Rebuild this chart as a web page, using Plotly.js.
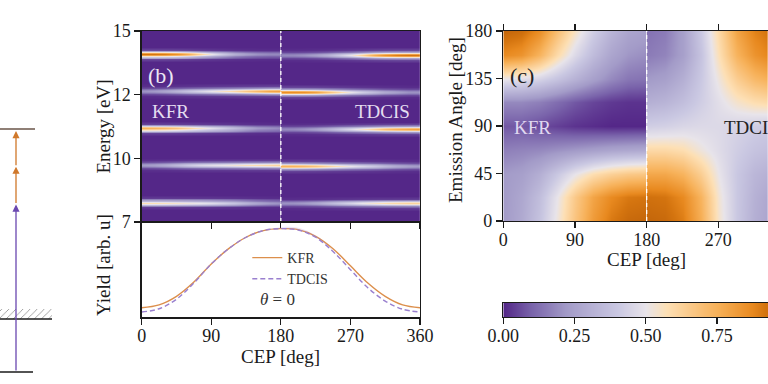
<!DOCTYPE html>
<html><head><meta charset="utf-8">
<script src="https://cdn.plot.ly/plotly-3.0.1.min.js"></script>
<style>html,body{margin:0;padding:0;background:#fff}#chart{width:768px;height:384px}</style>
</head><body><div id="chart"></div>
<script>
// ---------------- DATA ----------------
// Panel (b): harmonic bands vs CEP (y axis in tick-index units: 0->7, 1->10, 2->12, 3->15 eV)
const energyTickVals = [0, 1, 2, 3];
const energyTickText = ['7', '10', '12', '15'];
const cepKFR = [0, 15, 30, 45, 60, 75, 90, 105, 120, 135, 150, 165, 180];
const cepTDCIS = [180, 195, 210, 225, 240, 255, 270, 285, 300, 315, 330, 345, 360];
const bandCentersKFR = [0.304, 0.892, 1.469, 2.056, 2.633];
const bandCentersTDCIS = [0.294, 0.881, 1.458, 2.040, 2.622];
const bandKFR = [
  [0.57, 0.57, 0.56, 0.54, 0.52, 0.50, 0.47, 0.43, 0.38, 0.32, 0.26, 0.22, 0.20],
  [0.22, 0.24, 0.28, 0.34, 0.40, 0.45, 0.48, 0.50, 0.53, 0.56, 0.58, 0.60, 0.62],
  [0.75, 0.74, 0.72, 0.68, 0.62, 0.55, 0.48, 0.42, 0.35, 0.28, 0.22, 0.20, 0.18],
  [0.20, 0.22, 0.26, 0.32, 0.38, 0.44, 0.50, 0.55, 0.60, 0.66, 0.72, 0.78, 0.80],
  [0.92, 0.92, 0.90, 0.85, 0.76, 0.62, 0.50, 0.40, 0.30, 0.24, 0.20, 0.18, 0.18]
];
const bandTDCIS = [
  [0.20, 0.20, 0.22, 0.26, 0.32, 0.38, 0.44, 0.50, 0.54, 0.58, 0.60, 0.62, 0.62],
  [0.74, 0.74, 0.72, 0.68, 0.62, 0.56, 0.50, 0.45, 0.40, 0.34, 0.28, 0.24, 0.22],
  [0.18, 0.18, 0.20, 0.24, 0.30, 0.38, 0.46, 0.54, 0.62, 0.70, 0.75, 0.78, 0.80],
  [0.86, 0.86, 0.85, 0.80, 0.70, 0.60, 0.50, 0.42, 0.35, 0.28, 0.24, 0.20, 0.20],
  [0.18, 0.18, 0.20, 0.24, 0.30, 0.40, 0.50, 0.62, 0.76, 0.85, 0.90, 0.92, 0.92]
];
// cross-section profile of a band line (offset in axis units, relative intensity)
const bandProfileOffset = [-0.12, -0.075, -0.05, -0.033, -0.016, 0, 0.016, 0.033, 0.05, 0.075, 0.12];
const bandProfileShape  = [0, 0.06, 0.28, 0.58, 0.87, 1, 0.87, 0.58, 0.28, 0.06, 0];

// Yield vs CEP (theta = 0)
const cepYield = [0, 22.5, 45, 67.5, 90, 112.5, 135, 157.5, 180, 202.5, 225, 247.5, 270, 292.5, 315, 337.5, 360];
const yieldKFR = [0.10, 0.13, 0.22, 0.37, 0.56, 0.72, 0.84, 0.91, 0.93, 0.92, 0.85, 0.72, 0.54, 0.36, 0.22, 0.13, 0.10];
const yieldTDCIS = [0.055, 0.09, 0.19, 0.36, 0.56, 0.72, 0.84, 0.91, 0.93, 0.915, 0.84, 0.69, 0.50, 0.31, 0.17, 0.085, 0.055];
const yieldTDCISUpper = [0.055, 0.09, 0.19, 0.36, 0.56, 0.72, 0.84, 0.915, 0.945, 0.94, 0.86, 0.70, 0.50, 0.31, 0.17, 0.085, 0.055];

// Panel (c): angular map
const angleC = [0, 22.5, 45, 67.5, 90, 112.5, 135, 157.5, 180];
const cepC_KFR = [0, 22.5, 45, 67.5, 90, 112.5, 135, 157.5, 180];
const cepC_TDCIS = [180, 202.5, 225, 247.5, 270, 292.5, 315, 337.5, 360];
const mapKFR = [
  [0.22, 0.28, 0.38, 0.52, 0.68, 0.82, 0.91, 0.95, 0.96],
  [0.22, 0.27, 0.36, 0.50, 0.66, 0.79, 0.87, 0.91, 0.92],
  [0.22, 0.24, 0.30, 0.40, 0.50, 0.58, 0.63, 0.66, 0.67],
  [0.16, 0.17, 0.18, 0.20, 0.22, 0.24, 0.26, 0.27, 0.28],
  [0.08, 0.08, 0.06, 0.04, 0.02, 0.01, 0.00, 0.00, 0.00],
  [0.18, 0.18, 0.16, 0.12, 0.08, 0.05, 0.03, 0.02, 0.02],
  [0.50, 0.48, 0.44, 0.38, 0.31, 0.24, 0.18, 0.14, 0.13],
  [0.87, 0.84, 0.74, 0.59, 0.46, 0.35, 0.26, 0.21, 0.19],
  [0.96, 0.94, 0.86, 0.70, 0.55, 0.42, 0.32, 0.26, 0.24]
];
const mapTDCIS = [
  [0.96, 0.95, 0.90, 0.76, 0.54, 0.40, 0.30, 0.25, 0.23],
  [0.93, 0.92, 0.87, 0.74, 0.53, 0.40, 0.31, 0.26, 0.24],
  [0.78, 0.78, 0.74, 0.64, 0.50, 0.40, 0.33, 0.30, 0.28],
  [0.60, 0.60, 0.58, 0.52, 0.47, 0.42, 0.38, 0.36, 0.35],
  [0.42, 0.43, 0.45, 0.46, 0.46, 0.44, 0.42, 0.40, 0.40],
  [0.30, 0.32, 0.36, 0.42, 0.48, 0.54, 0.58, 0.60, 0.60],
  [0.22, 0.24, 0.30, 0.40, 0.52, 0.64, 0.72, 0.76, 0.77],
  [0.15, 0.17, 0.24, 0.38, 0.57, 0.74, 0.84, 0.89, 0.90],
  [0.13, 0.15, 0.24, 0.40, 0.60, 0.79, 0.89, 0.93, 0.93]
];
const colorbarLevels = [0, 0.05, 0.1, 0.15, 0.2, 0.25, 0.3, 0.35, 0.4, 0.45, 0.5, 0.55, 0.6, 0.65, 0.7, 0.75, 0.8, 0.85, 0.9, 0.95, 1];
const colorbarTicks = [0, 0.25, 0.5, 0.75];
const colorbarTickText = ['0.00', '0.25', '0.50', '0.75'];
const seamCEP = 180;

// Panel (a): schematic level energies (schematic units)
const groundE = 8, thresholdE = 61, finalE = 251;
const photonPurpleTop = 175.5, photonOrangeMid = 213.3, photonOrangeTop = 249;

// ---------------- STYLE ----------------
const FONT = 'Liberation Serif, Times New Roman, serif';
const INK = '#1a1a1a';
const CS = [[0,'#542788'],[0.1,'#7a64ab'],[0.22,'#a39bc8'],[0.4,'#cac8e2'],[0.5,'#e8e4ea'],
            [0.57,'#fde0b6'],[0.75,'#f7b159'],[0.875,'#e8891f'],[0.92,'#d4740f'],[1,'#b35806']];

function bandGrid(cep, centers, inten) {
  const ys = [0], zs = [cep.map(() => 0)];
  centers.forEach((c, i) => {
    bandProfileOffset.forEach((o, k) => {
      ys.push(c + o);
      zs.push(inten[i].map(v => v * bandProfileShape[k]));
    });
  });
  ys.push(3); zs.push(cep.map(() => 0));
  return {ys, zs};
}
const gK = bandGrid(cepKFR, bandCentersKFR, bandKFR);
const gT = bandGrid(cepTDCIS, bandCentersTDCIS, bandTDCIS);

const hm = (x, y, z, xa, ya) => ({type:'heatmap', x, y, z, zmin:0, zmax:1, colorscale:CS,
  zsmooth:'best', showscale:false, xaxis:xa, yaxis:ya, hoverinfo:'skip'});

const traces = [
  hm(cepKFR, gK.ys, gK.zs, 'x', 'y'),
  hm(cepTDCIS, gT.ys, gT.zs, 'x2', 'y'),
  {type:'scatter', mode:'lines', x:[seamCEP, seamCEP], y:[0, 3], xaxis:'x3', yaxis:'y',
   line:{color:'#ffffff', width:1.3, dash:'4px,3px'}, showlegend:false, hoverinfo:'skip'},
  // yield
  {type:'scatter', mode:'lines', name:'KFR', x:cepYield, y:yieldKFR, xaxis:'x4', yaxis:'y2',
   line:{color:'#dc8f4c', width:1.4, shape:'spline'}},
  {type:'scatter', mode:'lines', name:'TDCIS', x:cepYield, y:yieldTDCIS, xaxis:'x4', yaxis:'y2',
   line:{color:'#9a80cf', width:1.4, dash:'5px,3px', shape:'spline'}},
  {type:'scatter', mode:'lines', x:cepYield, y:yieldTDCISUpper, xaxis:'x4', yaxis:'y2', fill:'tonexty',
   fillcolor:'rgba(150,120,210,0.18)', line:{width:0, shape:'spline'}, showlegend:false, hoverinfo:'skip'},
  // panel c
  hm(cepC_KFR, angleC, mapKFR, 'x5', 'y3'),
  hm(cepC_TDCIS, angleC, mapTDCIS, 'x6', 'y3'),
  {type:'scatter', mode:'lines', x:[seamCEP, seamCEP], y:[0, 180], xaxis:'x7', yaxis:'y3',
   line:{color:'#ffffff', width:1.3, dash:'4px,3px'}, showlegend:false, hoverinfo:'skip'},
  // colorbar
  hm(colorbarLevels, [0], [colorbarLevels], 'x8', 'y4'),
  // panel a schematic
  {type:'bar', x:[26], y:[10], base:[thresholdE], width:[52], xaxis:'x9', yaxis:'y5', showlegend:false,
   hoverinfo:'skip', marker:{color:'rgba(0,0,0,0)', line:{width:0},
   pattern:{shape:'/', fgcolor:'#666', bgcolor:'rgba(0,0,0,0)', size:5, solidity:0.12}}},
  {type:'scatter', mode:'lines', x:[0, 33, null, 0, 52], y:[groundE, groundE, null, thresholdE, thresholdE],
   xaxis:'x9', yaxis:'y5', line:{color:INK, width:1.4}, showlegend:false, hoverinfo:'skip'},
  {type:'scatter', mode:'lines', x:[0, 35], y:[finalE, finalE], xaxis:'x9', yaxis:'y5',
   line:{color:'#8f7f76', width:2.2}, showlegend:false, hoverinfo:'skip'}
];

const axFont = {family:FONT, size:18, color:INK};
const frame = {showline:true, linecolor:INK, linewidth:1.4, showgrid:false, zeroline:false,
  ticks:'outside', ticklen:6, tickwidth:1.2, tickcolor:INK, tickfont:axFont};
const hidden = {visible:false, showgrid:false, zeroline:false};

const X0b = 141.7/768, X1b = 420/768, XMb = 280.85/768;
const X0c = 503.3/768, XMc = 646.7/768;
const py = p => 1 - p/384;

const layout = {
  width:768, height:384, margin:{l:0, r:0, t:0, b:0, autoexpand:false},
  paper_bgcolor:'#fff', plot_bgcolor:'rgba(0,0,0,0)', font:{family:FONT, color:INK},
  showlegend:true,
  legend:{x:0.322, y:py(242), xanchor:'left', yanchor:'top', bgcolor:'rgba(0,0,0,0)', traceorder:'normal',
    font:{family:FONT, size:14, color:'#333'}, tracegroupgap:0},
  // panel b heatmap
  xaxis:Object.assign({}, hidden, {domain:[X0b, XMb], range:[0, 180], anchor:'y'}),
  xaxis2:Object.assign({}, hidden, {domain:[XMb, X1b], range:[180, 360], anchor:'y'}),
  xaxis3:Object.assign({}, frame, {domain:[X0b, X1b], range:[0, 360], anchor:'y', mirror:true,
    tickvals:[0, 90, 180, 270, 360], showticklabels:false}),
  yaxis:Object.assign({}, frame, {domain:[py(222), py(31)], range:[0, 3], anchor:'x3', mirror:true,
    tickvals:energyTickVals, ticktext:energyTickText}),
  // yield
  xaxis4:Object.assign({}, frame, {domain:[X0b, X1b], range:[0, 360], anchor:'y2', mirror:true,
    tickvals:[0, 90, 180, 270, 360], ticklabelstandoff:-4}),
  yaxis2:Object.assign({}, frame, {domain:[py(317.3), py(222)], range:[0, 1], anchor:'x4', mirror:true,
    ticks:'', showticklabels:false}),
  // panel c
  xaxis5:Object.assign({}, hidden, {domain:[X0c, XMc], range:[0, 180], anchor:'y3'}),
  xaxis6:Object.assign({}, hidden, {domain:[XMc, 1], range:[180, 332.3], anchor:'y3'}),
  xaxis7:Object.assign({}, frame, {domain:[X0c, 1], range:[0, 332.3], anchor:'y3', mirror:'ticks',
    tickvals:[0, 90, 180, 270], ticklabelstandoff:-4}),
  yaxis3:Object.assign({}, frame, {domain:[py(221), py(31)], range:[0, 180], anchor:'x7',
    tickvals:[0, 45, 90, 135, 180]}),
  // colorbar
  xaxis8:Object.assign({}, frame, {domain:[X0c, 1], range:[0, 0.929], anchor:'y4', mirror:true,
    tickvals:colorbarTicks, ticktext:colorbarTickText, ticklabelstandoff:-4}),
  yaxis4:Object.assign({}, frame, {domain:[py(317), py(303)], range:[-0.5, 0.5], anchor:'x8',
    ticks:'', showticklabels:false}),
  // schematic
  xaxis9:Object.assign({}, hidden, {domain:[0, 60/768], range:[0, 60], anchor:'y5'}),
  yaxis5:Object.assign({}, hidden, {domain:[py(380), py(120)], range:[0, 260], anchor:'x9'}),
  annotations:[
    {text:'(b)', x:161/768, y:py(76), font:{size:22, color:'#ece8f4'}},
    {text:'KFR', x:150/768, y:py(111), xanchor:'left', font:{size:19, color:'#e4ddf0'}},
    {text:'TDCIS', x:411.7/768, y:py(111.5), xanchor:'right', font:{size:19, color:'#e4ddf0'}},
    {text:'Energy [eV]', x:103/768, y:py(126.5), textangle:-90, font:{size:19}},
    {text:'Yield [arb. u]', x:103/768, y:py(265), textangle:-90, font:{size:19}},
    {text:'CEP [deg]', x:280.8/768, y:py(356), font:{size:19}},
    {text:'<i>θ</i> = 0', x:277/768, y:py(299), font:{size:17, color:'#333'}},
    {text:'(c)', x:521.5/768, y:py(76), font:{size:22, color:'#222'}},
    {text:'KFR', x:511.7/768, y:py(127), xanchor:'left', font:{size:19, color:'#e0d8f0'}},
    {text:'TDCIS', x:721.7/768, y:py(127), xanchor:'left', font:{size:19, color:'#222'}},
    {text:'Emission Angle [deg]', x:455/768, y:py(120), textangle:-90, font:{size:19}},
    {text:'CEP [deg]', x:646/768, y:py(259), font:{size:19}},
    // schematic photon arrows
    {text:'', x:16, y:photonPurpleTop, ax:16, ay:groundE, xref:'x9', yref:'y5', axref:'x9', ayref:'y5',
     showarrow:true, arrowhead:2, arrowsize:1.1, arrowwidth:1.3, arrowcolor:'#6a48b0', standoff:0},
    {text:'', x:16, y:photonOrangeMid, ax:16, ay:photonPurpleTop, xref:'x9', yref:'y5', axref:'x9', ayref:'y5',
     showarrow:true, arrowhead:2, arrowsize:1.1, arrowwidth:1.3, arrowcolor:'#d0782a', standoff:0},
    {text:'', x:16, y:photonOrangeTop, ax:16, ay:photonOrangeMid, xref:'x9', yref:'y5', axref:'x9', ayref:'y5',
     showarrow:true, arrowhead:2, arrowsize:1.1, arrowwidth:1.3, arrowcolor:'#d0782a', standoff:0}
  ].map(a => Object.assign({xref:'paper', yref:'paper', showarrow:false, xanchor:'center', yanchor:'middle'}, a,
        {font:Object.assign({family:FONT, color:INK}, a.font || {})}))
};

Plotly.newPlot('chart', traces, layout, {displayModeBar:false, staticPlot:true});
</script></body></html>
